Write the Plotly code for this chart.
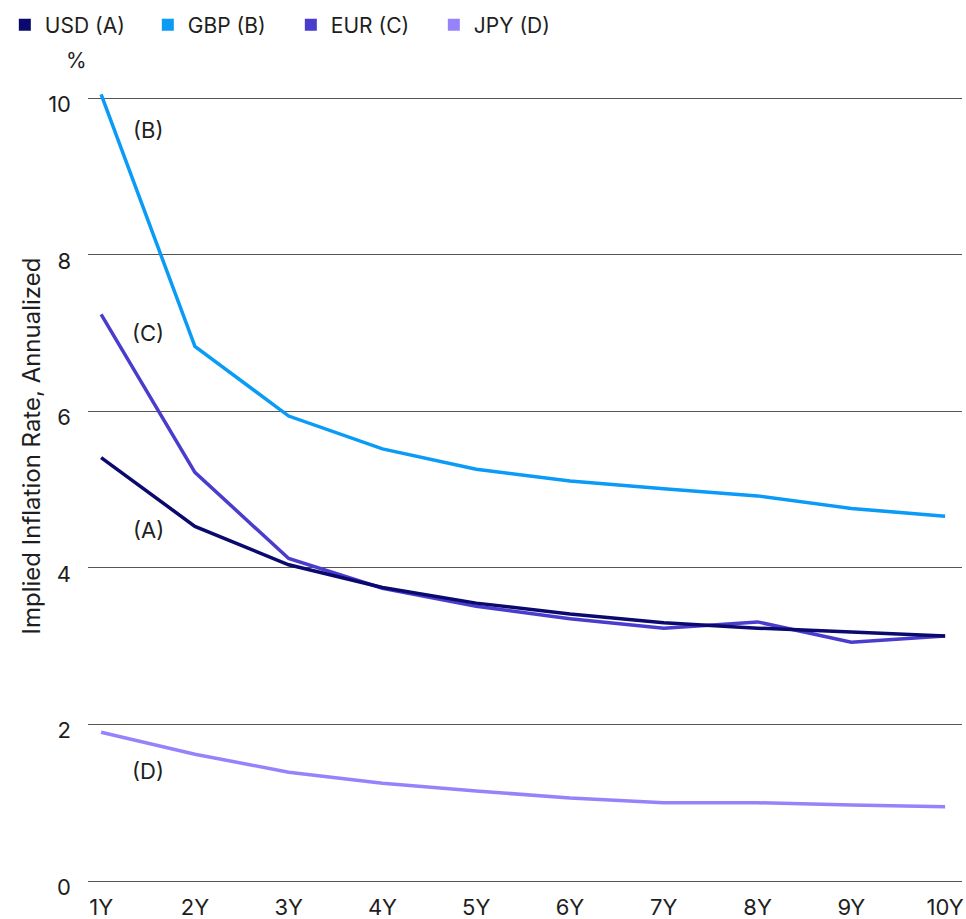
import plotly.graph_objects as go

tenors = ["1Y", "2Y", "3Y", "4Y", "5Y", "6Y", "7Y", "8Y", "9Y", "10Y"]
usd = [5.41, 4.53, 4.04, 3.75, 3.55, 3.41, 3.30, 3.23, 3.18, 3.13]
gbp = [10.05, 6.83, 5.94, 5.52, 5.26, 5.11, 5.01, 4.92, 4.76, 4.66]
eur = [7.24, 5.22, 4.12, 3.74, 3.51, 3.35, 3.23, 3.31, 3.05, 3.13]
jpy = [1.90, 1.62, 1.39, 1.25, 1.15, 1.06, 1.00, 1.00, 0.97, 0.95]

names = ["USD (A)", "GBP (B)", "EUR (C)", "JPY (D)"]
colors = ["#0a0a6e", "#0a9bf7", "#4a3ccc", "#9683fb"]
series = [usd, gbp, eur, jpy]
# draw order: JPY, GBP, EUR, USD (USD on top)
order = [3, 1, 2, 0]

label_text = ["(A)", "(B)", "(C)", "(D)"]
label_y = [4.48, 9.59, 7.0, 1.40]

FONT = "Inter"
TXT = "#1e1e1e"

fig = go.Figure()
for i in order:
    fig.add_trace(go.Scatter(x=tenors, y=series[i], mode="lines",
                             line=dict(color=colors[i], width=3.5),
                             showlegend=False, hoverinfo="skip"))
for i in range(4):
    fig.add_trace(go.Scatter(x=[None], y=[None], mode="markers", name=names[i],
                             marker=dict(symbol="square", size=11, color=colors[i])))

for t, yv in zip(label_text, label_y):
    fig.add_annotation(x=0.5, y=yv, xref="x", yref="y", text=t, showarrow=False,
                       font=dict(family=FONT, size=22, color=TXT))

fig.add_annotation(x=-0.065, y=0.551, xref="paper", yref="paper",
                   xanchor="center", yanchor="middle",
                   text="Implied Inflation Rate, Annualized", textangle=-90,
                   showarrow=False, font=dict(family=FONT, size=24, color=TXT))
fig.add_annotation(x=-0.0137, y=1.0405, xref="paper", yref="paper",
                   xanchor="center", yanchor="middle",
                   text="%", showarrow=False,
                   font=dict(family=FONT, size=21, color=TXT))

fig.update_layout(
    width=966, height=919,
    margin=dict(l=88, r=4, t=92, b=38, autoexpand=False),
    paper_bgcolor="white", plot_bgcolor="white",
    font=dict(family=FONT, size=22, color=TXT),
    legend=dict(orientation="h", xref="container", yref="container",
                x=0.005, y=0.995, xanchor="left", yanchor="top",
                font=dict(family=FONT, size=21, color=TXT),
                entrywidth=98, entrywidthmode="pixels", itemsizing="constant"),
    showlegend=True,
)
fig.update_xaxes(type="category", range=[-0.14, 9.18], showgrid=False,
                 showline=False, zeroline=False, ticks="", ticklabelstandoff=11,
                 automargin=False,
                 tickfont=dict(family=FONT, size=22, color=TXT))
fig.update_yaxes(range=[0, 10.08], tickvals=[0, 2, 4, 6, 8, 10],
                 showgrid=True, gridcolor="#555555", gridwidth=1,
                 zeroline=True, zerolinecolor="#555555", zerolinewidth=1,
                 showline=False, ticks="", ticklabelstandoff=16, ticklabelshift=6,
                 automargin=False,
                 tickfont=dict(family=FONT, size=22, color=TXT))

fig.write_html("out.html")
